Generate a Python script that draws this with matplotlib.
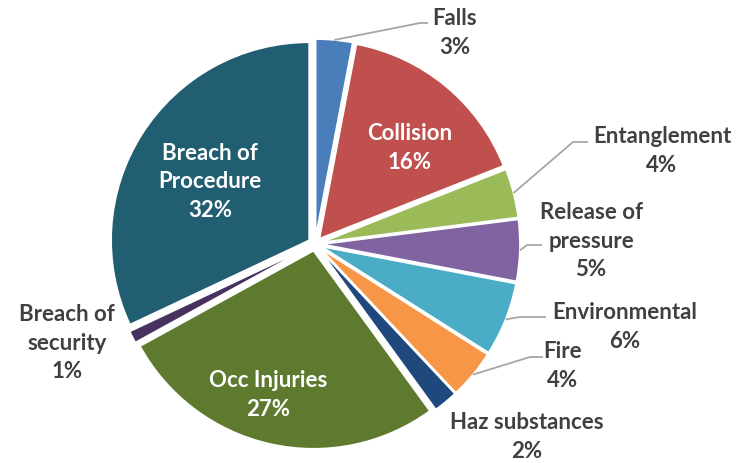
import matplotlib
matplotlib.use("Agg")
import matplotlib.pyplot as plt
import numpy as np

categories = ["Falls", "Collision", "Entanglement", "Release of\npressure",
              "Environmental", "Fire", "Haz substances", "Occ Injuries",
              "Breach of\nsecurity", "Breach of\nProcedure"]
shares = [3, 16, 4, 5, 6, 4, 2, 27, 1, 32]
colors = ["#4A7EBB", "#C0504D", "#9BBB59", "#8064A2", "#4BACC6",
          "#F79646", "#1F497D", "#5E7A2E", "#46315F", "#215E71"]

W, H = 749, 463
CX, CY, R = 315, 244, 198  # pie centre and radius in pixels


def px(x, y):
    # pixel position (from top-left) -> data coords of the pie
    return (x - CX) / R, (CY - y) / R


fig = plt.figure(figsize=(W / 100, H / 100), dpi=100)
ax = fig.add_axes([0, 0, 1, 1])

wedges, _ = ax.pie(shares, colors=colors, startangle=90, counterclock=False,
                   explode=[0.035] * len(shares), radius=1.0,
                   wedgeprops=dict(edgecolor="white", linewidth=1.2))

# pie() resets the limits, so set them afterwards
ax.set_xlim(-CX / R, (W - CX) / R)
ax.set_ylim(-(H - CY) / R, CY / R)
ax.set_aspect("equal")
ax.axis("off")

font = dict(family=["Lato", "DejaVu Sans"], fontweight="bold", fontsize=16,
            linespacing=1.45, ha="center", va="center")
dark = "#404040"

# label block centres (pixels), text colour
label_pos = {
    "Falls": (455, 33, dark),
    "Collision": (410, 148, "white"),
    "Entanglement": (662, 151, dark),
    "Release of\npressure": (591, 241, dark),
    "Environmental": (625, 327, dark),
    "Fire": (563, 366, dark),
    "Haz substances": (527, 437, dark),
    "Occ Injuries": (268, 395, "white"),
    "Breach of\nsecurity": (67, 343, dark),
    "Breach of\nProcedure": (210, 182, "white"),
}

# leader lines: elbow point and end point (pixels)
leaders = {
    "Falls": [(420, 23), (428, 23)],
    "Entanglement": [(573, 142), (588, 142)],
    "Release of\npressure": [(527, 245), (542, 245)],
    "Environmental": [(520, 317), (546, 317)],
    "Fire": [(530, 357), (543, 357)],
}

for w, cat, val in zip(wedges, categories, shares):
    x, y, c = label_pos[cat]
    lx, ly = px(x, y)
    ax.text(lx, ly, f"{cat}\n{val}%", color=c, **font)
    if cat in leaders:
        ang = np.deg2rad((w.theta1 + w.theta2) / 2)
        cx, cy = w.center
        sx, sy = cx + 1.0 * np.cos(ang), cy + 1.0 * np.sin(ang)
        pts = [(sx, sy)] + [px(*p) for p in leaders[cat]]
        xs, ys = zip(*pts)
        ax.plot(xs, ys, color="#A6A6A6", lw=1.3, solid_capstyle="butt")

fig.savefig("out.png", dpi=100, facecolor="white")
